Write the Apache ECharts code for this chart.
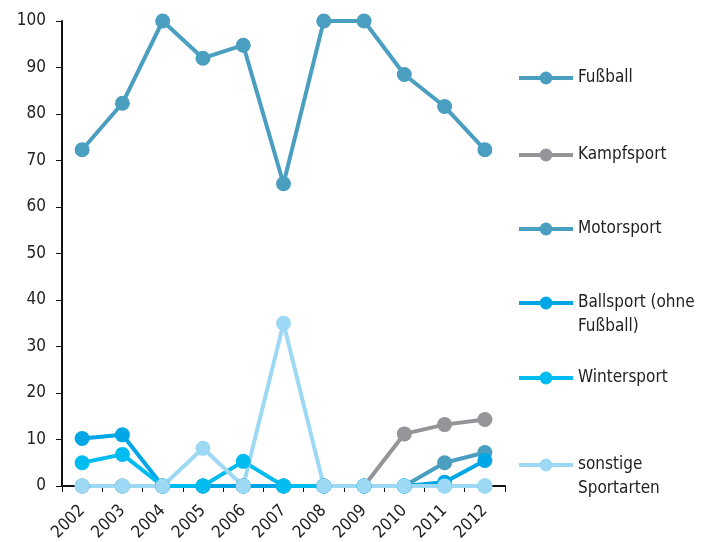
<!DOCTYPE html>
<html>
<head>
<meta charset="utf-8">
<script src="https://cdn.jsdelivr.net/npm/echarts@6/dist/echarts.min.js"></script>
<style>
  html, body { margin: 0; padding: 0; background: #fff; }
  #chart { width: 712px; height: 542px; }
</style>
</head>
<body>
<div id="chart"></div>
<script>
// 年份
var years = ["2002", "2003", "2004", "2005", "2006", "2007", "2008", "2009", "2010", "2011", "2012"];

// 各系列数值 (%)
var fussball = [72.3, 82.3, 100, 92, 94.8, 65, 100, 100, 88.5, 81.6, 72.3];
var kampfsport = [0, 0, 0, 0, 0, 0, 0, 0, 11.2, 13.2, 14.3];
var motorsport = [0, 0, 0, 0, 0, 0, 0, 0, 0, 5.0, 7.2];
var ballsport = [10.2, 11.0, 0, 0, 0, 0, 0, 0, 0, 0.8, 5.5];
var wintersport = [5.0, 6.8, 0, 0, 5.3, 0, 0, 0, 0, 0, 0];
var sonstige = [0, 0, 0, 8.1, 0, 35, 0, 0, 0, 0, 0];

var names = ["Fußball", "Kampfsport", "Motorsport", "Ballsport (ohne Fußball)", "Wintersport", "sonstige Sportarten"];
var labels = ["Fußball", "Kampfsport", "Motorsport", "Ballsport (ohne\nFußball)", "Wintersport", "sonstige\nSportarten"];
var colors = ["#4a9ebf", "#949599", "#4a9ebf", "#00a6e6", "#00bcf0", "#9dd9f5"];
var values = [fussball, kampfsport, motorsport, ballsport, wintersport, sonstige];
var legendTops = [78, 155, 229, 303, 378, 465];

var font = "'DejaVu Sans Condensed', 'Liberation Sans', sans-serif";

var chart = echarts.init(document.getElementById("chart"));

// 每个图例单独放置, 两行的图例让图标对齐第一行
var legends = names.map(function (n, i) {
  var multi = labels[i].indexOf("\n") >= 0;
  return {
    data: [n],
    orient: "vertical",
    left: 517,
    top: legendTops[i] - (multi ? 36 : 12),
    padding: 0,
    itemWidth: 54,
    itemHeight: 16,
    itemGap: 0,
    selectedMode: false,
    lineStyle: { width: 4 },
    itemStyle: { borderWidth: 0 },
    formatter: function () { return multi ? " \n" + labels[i] : labels[i]; },
    textStyle: {
      fontFamily: font,
      fontSize: 17,
      color: "#222",
      lineHeight: 24
    }
  };
});

var series = names.map(function (n, i) {
  return {
    name: n,
    type: "line",
    data: values[i],
    symbol: "circle",
    symbolSize: 15,
    color: colors[i],
    lineStyle: { width: 4, color: colors[i] },
    itemStyle: { color: colors[i] },
    animation: false
  };
});

chart.setOption({
  backgroundColor: "#fff",
  textStyle: { fontFamily: font },
  grid: { left: 62, right: 207, top: 21, bottom: 56, containLabel: false, outerBoundsMode: "none" },
  legend: legends,
  xAxis: {
    type: "category",
    data: years,
    boundaryGap: true,
    axisLine: { lineStyle: { color: "#111", width: 2 } },
    axisTick: { show: true, length: 6, alignWithLabel: false, lineStyle: { color: "#111", width: 1 } },
    axisLabel: {
      rotate: 45,
      fontFamily: font,
      fontSize: 17,
      color: "#222",
      margin: 22,
      interval: 0
    }
  },
  yAxis: {
    type: "value",
    min: 0,
    max: 100,
    interval: 10,
    splitLine: { show: false },
    axisLine: { show: true, lineStyle: { color: "#111", width: 2 } },
    axisTick: { show: true, length: 6, lineStyle: { color: "#111", width: 1 } },
    axisLabel: {
      fontFamily: font,
      fontSize: 17,
      color: "#222",
      margin: 16
    }
  },
  series: series
});
</script>
</body>
</html>
